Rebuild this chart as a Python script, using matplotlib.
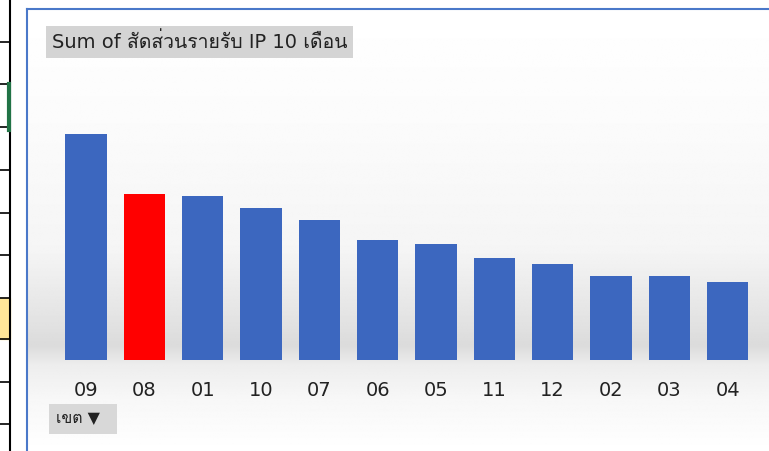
import numpy as np
import matplotlib
matplotlib.use("Agg")
import matplotlib.pyplot as plt
from matplotlib import font_manager, ft2font
from matplotlib.patches import Rectangle

# data (bar heights, arbitrary units)
months = ["09", "08", "01", "10", "07", "06", "05", "11", "12", "02", "03", "04"]
values = [22.6, 16.6, 16.4, 15.2, 14.0, 12.0, 11.6, 10.2, 9.6, 8.4, 8.4, 7.8]
highlight = "08"
title = "Sum of สัดส่วนรายรับ IP 10 เดือน"
field_button = "เขต ▼"


def find_thai_font():
    # pick the first installed font that has Thai glyphs
    for f in font_manager.fontManager.ttflist:
        try:
            ft = ft2font.FT2Font(f.fname)
            if ft.get_char_index(ord("ส")) and ft.get_char_index(ord("ต")):
                return f.name
        except Exception:
            pass
    return "DejaVu Sans"


thai = find_thai_font()
families = ["DejaVu Sans", thai]

W, H = 769, 451
fig = plt.figure(figsize=(W / 100, H / 100), dpi=100)


def px(x0, y0, x1, y1):
    # pixel box (top-left origin) -> figure fraction rect
    return [x0 / W, 1 - y1 / H, (x1 - x0) / W, (y1 - y0) / H]


# spreadsheet strip on the left
sheet = fig.add_axes(px(0, 0, 27, H))
sheet.set_xlim(0, 27)
sheet.set_ylim(H, 0)
sheet.axis("off")
sheet.add_patch(Rectangle((0, 298), 10, 41, color="#ffe699"))
for y in [42, 84, 127, 170, 213, 255, 298, 339, 382, 424]:
    sheet.plot([0, 10], [y, y], color="black", lw=1.2)
sheet.plot([10, 10], [0, H], color="black", lw=1.5)
sheet.plot([9, 9], [84, 130], color="#217346", lw=3)

# chart background with the soft grey floor
bg = fig.add_axes(px(27, 9, W, H))
bg.axis("off")
ys = np.linspace(9, H, 400)
shade = np.interp(ys, [9, 120, 250, 320, 345, 365, 400, 451],
                  [1.0, 0.985, 0.96, 0.89, 0.86, 0.93, 0.97, 1.0])
bg.imshow(shade[:, None] * np.ones((1, 10)), cmap="gray", vmin=0, vmax=1,
          aspect="auto", extent=[0, 1, 0, 1], interpolation="bilinear")
bg.set_xlim(0, 1)
bg.set_ylim(0, 1)

# blue chart border
frame = fig.add_axes(px(27, 9, W + 5, H + 5))
frame.set_xticks([])
frame.set_yticks([])
frame.patch.set_alpha(0)
for s in frame.spines.values():
    s.set_color("#4a78c9")
    s.set_linewidth(1.5)

# bars
ax = fig.add_axes(px(56.8, 100, 756.8, 360))
ax.patch.set_alpha(0)
colors = ["#ff0000" if m == highlight else "#3c67bf" for m in months]
ax.bar(range(len(months)), values, width=0.71, color=colors)
ax.set_xlim(-0.5, len(months) - 0.5)
ax.set_ylim(0, 26)
ax.set_xticks(range(len(months)))
ax.set_xticklabels(months, fontsize=14, color="#222222", family=families)
ax.tick_params(axis="x", length=0, pad=15)
ax.set_yticks([])
for s in ax.spines.values():
    s.set_visible(False)

# title box and field button
fig.text(52 / W, 1 - 42 / H, title, fontsize=14, family=families,
         color="#222222", va="center", ha="left",
         bbox=dict(boxstyle="square,pad=0.3", fc="#d4d4d4", ec="none"))
fig.text(56 / W, 1 - 419 / H, field_button + "  ", fontsize=11.5, family=families,
         color="#222222", va="center", ha="left",
         bbox=dict(boxstyle="square,pad=0.45", fc="#d8d8d8", ec="none"))

fig.savefig("out.png", dpi=100)
